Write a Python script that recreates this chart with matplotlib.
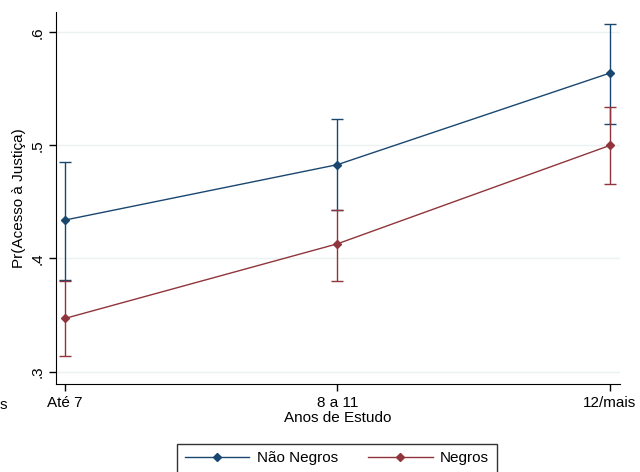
import numpy as np
import matplotlib.pyplot as plt
from matplotlib.lines import Line2D

plt.rcParams['font.family'] = ['Liberation Sans', 'DejaVu Sans']

categorias = ["Até 7", "8 a 11", "12/mais"]
nao_negros = [0.434, 0.483, 0.564]
nao_negros_lo = [0.381, 0.443, 0.519]
nao_negros_hi = [0.485, 0.523, 0.607]
negros = [0.347, 0.413, 0.500]
negros_lo = [0.314, 0.380, 0.466]
negros_hi = [0.380, 0.443, 0.534]

azul = "#1a476f"
vinho = "#90353b"

fig = plt.figure(figsize=(6.4, 4.72), dpi=100)
ax = fig.add_axes([56/640, 1 - 384/472, 564/640, 372/472])

x = np.arange(len(categorias))


def serie(y, lo, hi, cor):
    y = np.array(y)
    err = [y - np.array(lo), np.array(hi) - y]
    ax.errorbar(x, y, yerr=err, color=cor, lw=1, marker="D", ms=4.5,
                capsize=4, capthick=1, elinewidth=1)


serie(nao_negros, nao_negros_lo, nao_negros_hi, azul)
serie(negros, negros_lo, negros_hi, vinho)

ax.set_xlim(-0.033, 2.037)
ax.set_ylim(0.289, 0.618)
ax.set_xticks(x)
ax.set_xticklabels(categorias)
ax.set_yticks([0.3, 0.4, 0.5, 0.6])
ax.set_yticklabels([".3", ".4", ".5", ".6"], rotation=90, va="center")
ax.tick_params(labelsize=11, length=5, width=1, colors="black")
ax.grid(axis="y", color="#eaf2f3", lw=1)
ax.set_axisbelow(True)
for s in ["top", "right"]:
    ax.spines[s].set_visible(False)

ax.set_xlabel("Anos de Estudo", fontsize=11, labelpad=1)
ax.set_ylabel("Pr(Acesso à Justiça)", fontsize=11, labelpad=3)

# fragmento de rótulo cortado na borda esquerda
fig.text(0.0, 1 - 405/472, "s", fontsize=11, va="center", ha="left")

handles = [Line2D([], [], color=azul, lw=1, marker="D", ms=4.5),
           Line2D([], [], color=vinho, lw=1, marker="D", ms=4.5)]
leg = fig.legend(handles, ["Não Negros", "Negros"], loc="upper center",
                 bbox_to_anchor=(337/640, 1 - 436/472),
                 ncol=2, fontsize=11, frameon=True, fancybox=False,
                 edgecolor="black", handlelength=4.2, handletextpad=0.5,
                 columnspacing=2.0, borderpad=0.5)
leg.get_frame().set_linewidth(1)

fig.savefig("out.png", dpi=100)
